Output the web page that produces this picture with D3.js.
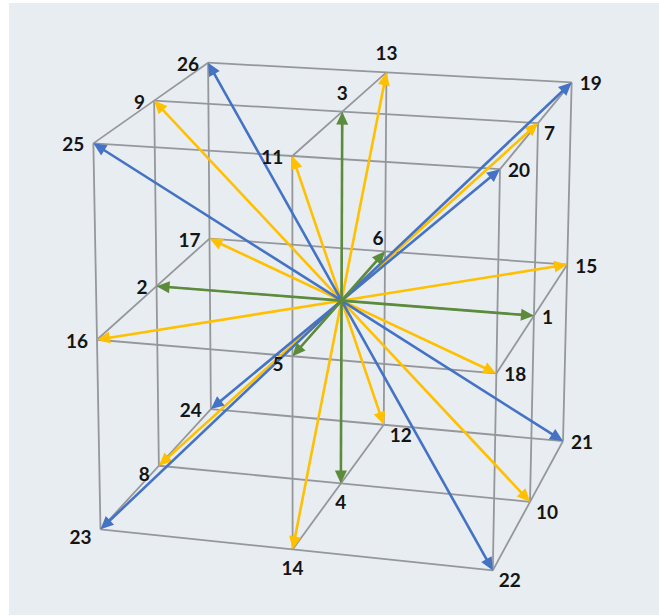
<!DOCTYPE html>
<html><head><meta charset="utf-8">
<script src="https://cdn.jsdelivr.net/npm/d3@7"></script>
<style>body{margin:0;background:#fff}svg{display:block}</style>
</head><body>
<div id="chart"></div>
<script>
// ---- data: D3Q27 lattice directions (numbered 1..26) ----
const labels = d3.range(1, 27).map(String);
const vx = [1,-1, 0, 0, 0, 0, 1,-1,-1, 1, 0, 0, 0, 0, 1,-1,-1, 1, 1, 1, 1, 1,-1,-1,-1,-1];
const vy = [0, 0, 0, 0,-1, 1, 0, 0, 0, 0,-1, 1, 1,-1, 1,-1, 1,-1, 1,-1, 1,-1,-1, 1,-1, 1];
const vz = [0, 0, 1,-1, 0, 0, 1,-1, 1,-1, 1,-1, 1,-1, 0, 0, 0, 0, 1, 1,-1,-1,-1,-1, 1, 1];
const gridLevels = [-1, 0, 1];
const labelSide = ["E","W","N","S","SW","NW","SE","SW","W","SE","W","SE","N","S","E","W","W","E","E","E","E","SE","SW","W","W","W"];

// ---- layout / style ----
const W = 659, H = 616;
const colorByOrder = {1: "#5b8b3b", 2: "#ffc000", 3: "#4472c4"};
// perspective camera (3x4 projective matrix)
const camera = [
  [181.92157, 66.51778, -5.03626, 341.53875],
  [8.84929, -34.30659, -190.89978, 300.66335],
  [-0.01965, 0.05971, -0.01679, 1]
];
const project = ([x, y, z]) => {
  const r = camera.map(row => row[0]*x + row[1]*y + row[2]*z + row[3]);
  return [r[0] / r[2], r[1] / r[2]];
};
// unit lattice scales (domain -> lattice coordinates)
const sx = d3.scaleLinear().domain([-1, 1]).range([-1, 1]);
const sy = d3.scaleLinear().domain([-1, 1]).range([-1, 1]);
const sz = d3.scaleLinear().domain([-1, 1]).range([-1, 1]);
const P = (x, y, z) => project([sx(x), sy(y), sz(z)]);

const svg = d3.select("#chart").append("svg").attr("width", W).attr("height", H);
svg.append("rect").attr("x", 9).attr("y", 3).attr("width", W - 9).attr("height", H - 4)
  .attr("fill", "#e8edf1");

// ---- grid lines of the 3x3x3 lattice ----
const gridLines = [];
gridLevels.forEach(a => gridLevels.forEach(b => {
  gridLines.push(gridLevels.map(t => P(t, a, b)));   // along x
  gridLines.push(gridLevels.map(t => P(a, t, b)));   // along y
  gridLines.push(gridLevels.map(t => P(a, b, t)));   // along z
}));
const line = d3.line();
svg.append("g").selectAll("path").data(gridLines).join("path")
  .attr("d", line).attr("fill", "none")
  .attr("stroke", "#95979b").attr("stroke-width", 1.8);

// ---- arrows ----
const vectors = labels.map((lab, i) => ({
  lab, x: vx[i], y: vy[i], z: vz[i], side: labelSide[i],
  order: Math.abs(vx[i]) + Math.abs(vy[i]) + Math.abs(vz[i])
}));
const O = P(0, 0, 0);
const drawOrder = [2, 3, 1];
const headLen = 13, headHalf = 6;
const gArrows = svg.append("g");
drawOrder.forEach(ord => {
  vectors.filter(d => d.order === ord).forEach(d => {
    const [ex, ey] = P(d.x, d.y, d.z);
    const dx = ex - O[0], dy = ey - O[1];
    const len = Math.hypot(dx, dy), ux = dx / len, uy = dy / len;
    const bx = ex - ux * headLen, by = ey - uy * headLen;
    const col = colorByOrder[ord];
    gArrows.append("path").attr("d", line([O, [bx + ux*2, by + uy*2]]))
      .attr("stroke", col).attr("stroke-width", 2.6).attr("fill", "none");
    gArrows.append("path")
      .attr("d", line([[ex, ey], [bx - uy*headHalf, by + ux*headHalf], [bx + uy*headHalf, by - ux*headHalf]]) + "Z")
      .attr("fill", col);
  });
});

// ---- labels ----
const place = {
  E:  {a: "start",  dx: 8,  dy: 8},
  W:  {a: "end",    dx: -9, dy: 8},
  N:  {a: "middle", dx: 0,  dy: -12},
  NW: {a: "middle", dx: -7, dy: -6},
  S:  {a: "middle", dx: 0,  dy: 26},
  SE: {a: "start",  dx: 6,  dy: 17},
  SW: {a: "end",    dx: -9, dy: 15}
};
svg.append("g").selectAll("text").data(vectors).join("text")
  .attr("x", d => P(d.x, d.y, d.z)[0] + place[d.side].dx)
  .attr("y", d => P(d.x, d.y, d.z)[1] + place[d.side].dy)
  .attr("text-anchor", d => place[d.side].a)
  .attr("font-family", "Lato, 'Open Sans', sans-serif")
  .attr("font-weight", 700).attr("font-size", 19)
  .attr("fill", "#141414")
  .text(d => d.lab);
</script>
</body></html>
